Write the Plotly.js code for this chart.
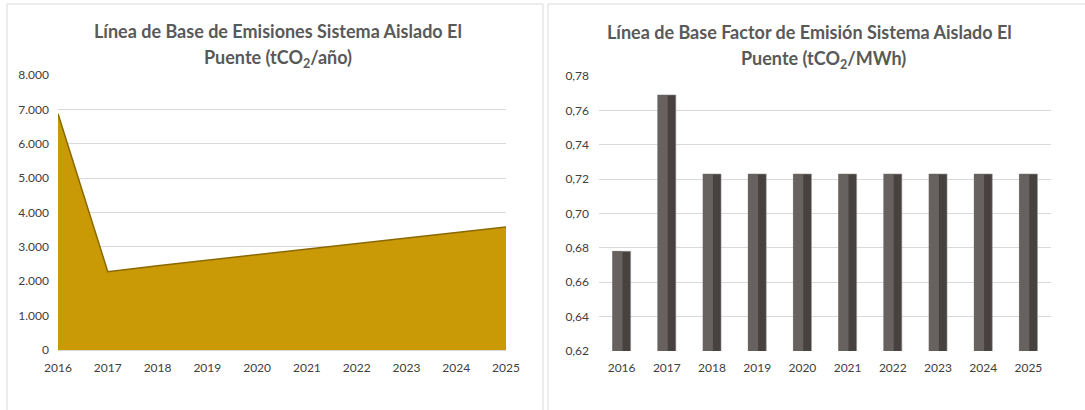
<!DOCTYPE html>
<html>
<head>
<meta charset="utf-8">
<script src="https://cdn.plot.ly/plotly-3.0.1.min.js"></script>
<style>html,body{margin:0;padding:0;background:#fff;}#chart{width:1085px;height:410px;}</style>
</head>
<body>
<div id="chart"></div>
<script>
// Data
const years = [2016, 2017, 2018, 2019, 2020, 2021, 2022, 2023, 2024, 2025];
const yearLabels = ['2016','2017','2018','2019','2020','2021','2022','2023','2024','2025'];
const emissions = [6870, 2280, 2450, 2610, 2770, 2920, 3080, 3240, 3400, 3580];
const emissionFactor = [0.678, 0.769, 0.723, 0.723, 0.723, 0.723, 0.723, 0.723, 0.723, 0.723];
const titleLeft1 = 'Línea de Base de Emisiones Sistema Aislado El';
const titleLeft2 = 'Puente (tCO<sub>2</sub>/año)';
const titleRight1 = 'Línea de Base Factor de Emisión Sistema Aislado El';
const titleRight2 = 'Puente (tCO<sub>2</sub>/MWh)';
const emisTicks = [0, 1000, 2000, 3000, 4000, 5000, 6000, 7000, 8000];
const efTicks = [0.62, 0.64, 0.66, 0.68, 0.70, 0.72, 0.74, 0.76, 0.78];

const W = 1085, H = 410;
const px = v => v / W;
const py = v => 1 - v / H;
const FONT = 'Lato, "Open Sans", sans-serif';
const tickFont = {family: FONT, size: 12, color: '#404040'};
const titleFont = {family: FONT, size: 18, color: '#595959', weight: 'bold'};

const traces = [
  {
    x: years, y: emissions, type: 'scatter', mode: 'lines', fill: 'tozeroy',
    fillcolor: '#C99A06', line: {color: '#8a6800', width: 1.5},
    xaxis: 'x', yaxis: 'y', hoverinfo: 'x+y', showlegend: false
  },
  {
    x: yearLabels, y: emissionFactor, type: 'bar', width: 0.4,
    marker: {color: '#474140', line: {color: '#9a9594', width: 0.6}},
    xaxis: 'x2', yaxis: 'y2', showlegend: false
  },
  {
    x: yearLabels, y: emissionFactor, type: 'bar', width: 0.22, offset: -0.2,
    marker: {color: '#67615f', line: {width: 0}},
    xaxis: 'x2', yaxis: 'y2', showlegend: false, hoverinfo: 'skip'
  }
];

const layout = {
  width: W, height: H,
  margin: {l: 0, r: 0, t: 0, b: 0},
  paper_bgcolor: '#ffffff', plot_bgcolor: 'rgba(0,0,0,0)',
  separators: ',.',
  barmode: 'overlay',
  showlegend: false,
  font: {family: FONT, color: '#404040'},
  xaxis: {
    domain: [px(58), px(506)], anchor: 'y', range: [2016, 2025],
    tickvals: years, ticktext: yearLabels, showgrid: false, zeroline: false,
    showline: true, linecolor: '#d9d9d9', linewidth: 1,
    tickfont: tickFont, ticks: '', ticklabelstandoff: 7
  },
  yaxis: {
    domain: [1 - 350 / H, 1 - 75 / H], anchor: 'x', range: [0, 8000],
    tickvals: emisTicks, tickformat: ',.0f', showgrid: true, gridcolor: '#d9d9d9', gridwidth: 1,
    zeroline: false, showline: false, tickfont: tickFont, ticks: '', ticklabelstandoff: 8
  },
  xaxis2: {
    domain: [px(599), px(1051)], anchor: 'y2', type: 'category', range: [-0.5, 9.5],
    showgrid: false, zeroline: false, showline: false,
    tickfont: tickFont, ticks: '', ticklabelstandoff: 8
  },
  yaxis2: {
    domain: [1 - 351 / H, 1 - 76 / H], anchor: 'x2', range: [0.62, 0.78],
    tickvals: efTicks, tickformat: '.2f', showgrid: true, gridcolor: '#d9d9d9', gridwidth: 1,
    zeroline: false, showline: false, tickfont: tickFont, ticks: '', ticklabelstandoff: 9
  },
  shapes: [
    {type: 'rect', xref: 'paper', yref: 'paper', x0: px(7), x1: px(543), y0: py(412), y1: py(4),
     line: {color: '#d9d9d9', width: 1}, fillcolor: 'rgba(0,0,0,0)', layer: 'below'},
    {type: 'rect', xref: 'paper', yref: 'paper', x0: px(548), x1: px(1090), y0: py(412), y1: py(4),
     line: {color: '#d9d9d9', width: 1}, fillcolor: 'rgba(0,0,0,0)', layer: 'below'}
  ],
  annotations: [
    {text: titleLeft1, xref: 'paper', yref: 'paper', x: px(278), y: py(31), xanchor: 'center', yanchor: 'middle',
     showarrow: false, font: titleFont},
    {text: titleLeft2, xref: 'paper', yref: 'paper', x: px(278), y: py(58), xanchor: 'center', yanchor: 'middle',
     showarrow: false, font: titleFont},
    {text: titleRight1, xref: 'paper', yref: 'paper', x: px(809), y: py(32), xanchor: 'center', yanchor: 'middle',
     showarrow: false, font: titleFont},
    {text: titleRight2, xref: 'paper', yref: 'paper', x: px(823), y: py(59), xanchor: 'center', yanchor: 'middle',
     showarrow: false, font: titleFont}
  ]
};

Plotly.newPlot('chart', traces, layout, {displayModeBar: false, staticPlot: true});
</script>
</body>
</html>
